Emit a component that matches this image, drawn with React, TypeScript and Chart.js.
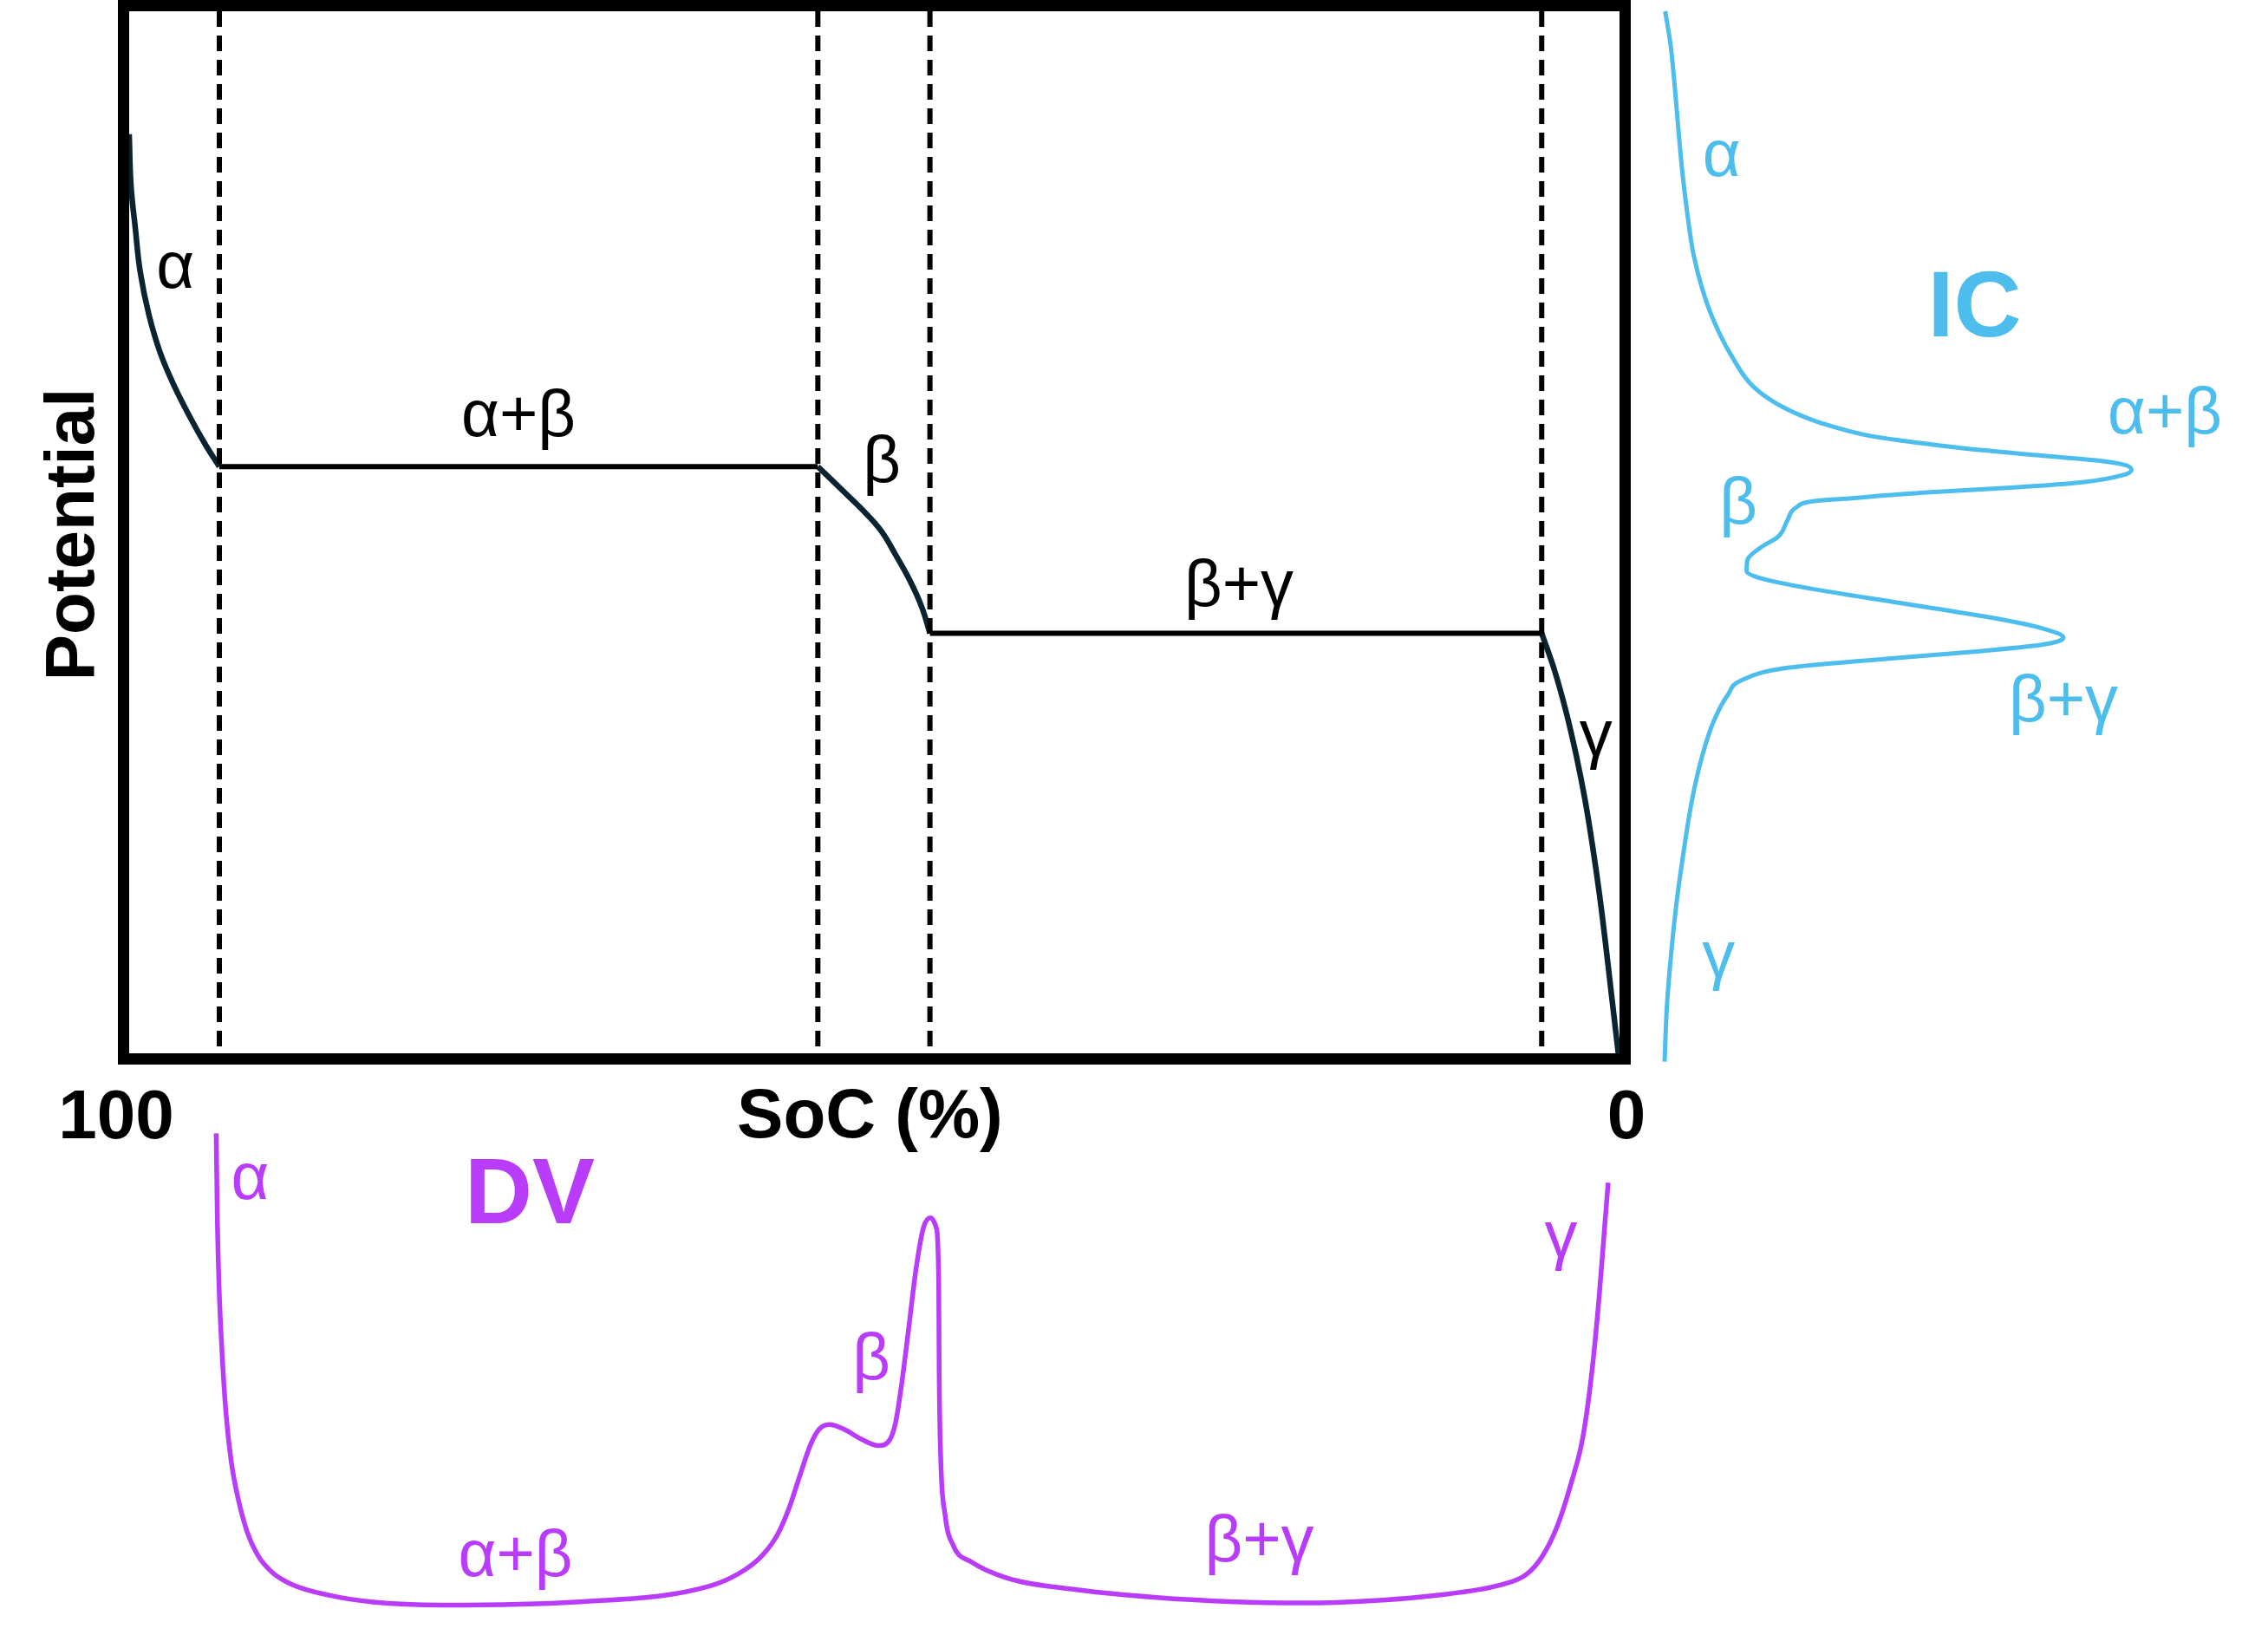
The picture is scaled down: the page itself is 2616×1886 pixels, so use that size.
import React, { useEffect, useRef } from 'react';
import { Chart, registerables } from 'chart.js';

Chart.register(...registerables);

const W = 2616;
const H = 1886;
const FONT = '"Liberation Sans", Arial, sans-serif';

const NAVY = '#0b2431';
const BLUE = '#4dbdee';
const PURPLE = '#b93cfb';

// potential vs SoC, one piece per phase region
const alphaSoc = [100, 99.88, 99.59, 99.26, 98.68, 97.91, 96.93, 95.86, 94.88, 93.95];
const alphaPot = [88.2, 83.3, 79.2, 75.0, 70.9, 67.2, 63.9, 60.9, 58.4, 56.3];
const betaSoc = [53.79, 52.05, 50.69, 49.52, 48.56, 47.59, 46.81, 46.27];
const betaPot = [56.3, 53.9, 52.0, 50.1, 47.8, 45.3, 42.8, 40.3];
const gammaSoc = [5.22, 4.35, 3.57, 2.89, 2.31, 1.82, 1.34, 0.95, 0.56, 0.08];
const gammaPot = [40.3, 36.7, 32.7, 28.5, 24.3, 20.0, 15.2, 10.7, 5.9, 0];

// two-phase plateaus: [soc start, soc end, potential]
const plateaus = [
  [93.95, 53.79, 56.3],
  [46.27, 5.22, 40.3],
];

// phase boundaries (dashed)
const boundarySoc = [93.95, 53.79, 46.27, 5.22];

const socTicks = [100, 0];

// incremental capacity (dQ/dV) vs potential
const icPot = [100.0, 96.9, 92.8, 88.6, 84.4, 80.3, 76.7, 73.4, 70.3, 67.0, 63.9, 62.0, 60.5, 59.2, 58.8, 58.0, 57.4, 56.9, 56.5, 56.0, 55.5, 54.8, 54.3, 53.8, 53.2, 53.0, 52.4, 51.2, 49.6, 48.5, 47.4, 46.3, 45.6, 44.6, 43.2, 41.8, 40.8, 39.9, 39.2, 38.5, 37.8, 37.0, 35.8, 34.4, 31.9, 28.5, 24.3, 19.2, 14.1, 8.75, 4.5, -0.8];
const icDqdv = [0.95, 1.95, 2.78, 3.5, 4.28, 5.28, 6.38, 8.05, 10.28, 13.62, 18.05, 23.62, 30.83, 40.83, 46.3, 59.3, 72.5, 83.8, 89.0, 90.6, 89.0, 81.2, 68.1, 50.6, 34.9, 29.7, 26.2, 24.5, 22.7, 19.2, 16.8, 16.6, 19.2, 28.8, 46.3, 63.7, 73.3, 77.5, 73.3, 59.3, 41.9, 24.5, 15.6, 13.0, 10.3, 8.05, 6.1, 4.45, 3.05, 1.95, 1.28, 0.83];

// differential voltage (dV/dQ) vs SoC
const dvSoc = [94.16, 94.08, 93.97, 93.78, 93.5, 93.15, 92.67, 92.09, 91.41, 90.44, 89.08, 86.53, 83.65, 79.0, 70.08, 60.91, 58.64, 57.48, 56.5, 55.73, 54.96, 54.28, 53.69, 53.01, 52.05, 50.88, 49.72, 48.94, 48.56, 48.17, 47.68, 47.2, 46.71, 46.23, 45.84, 45.68, 45.65, 45.55, 45.26, 44.68, 43.51, 41.13, 36.31, 31.06, 26.18, 21.29, 16.4, 11.52, 7.85, 6.25, 5.18, 4.19, 3.2, 2.47, 1.86, 1.37, 0.99, 0.76];
const dvDvdq = [97.0, 79.3, 66.6, 54.0, 41.2, 31.7, 24.1, 17.8, 13.3, 9.8, 7.3, 5.1, 3.8, 3.2, 3.8, 7.1, 10.3, 13.2, 17.2, 22.4, 29.3, 35.1, 38.2, 39.1, 38.2, 36.2, 34.9, 36.2, 39.7, 47.1, 58.6, 70.1, 78.2, 80.2, 78.2, 67.2, 50.0, 32.8, 21.3, 14.9, 11.8, 8.6, 6.2, 4.7, 3.9, 3.6, 4.1, 5.4, 7.3, 9.3, 12.9, 18.8, 27.9, 36.4, 49.4, 64.4, 78.7, 87.2];

type Label = { text: string; x: number; y: number; size: number; color: string; bold?: boolean; rotate?: boolean };

const mainLabels: Label[] = [
  { text: 'α', x: 96.9, y: 73.5, size: 76, color: '#000' },
  { text: 'α+β', x: 73.88, y: 59.2, size: 76, color: '#000' },
  { text: 'β', x: 49.5, y: 54.8, size: 76, color: '#000' },
  { text: 'β+γ', x: 25.54, y: 42.9, size: 76, color: '#000' },
  { text: 'γ', x: 1.59, y: 28.5, size: 76, color: '#000' },
  { text: 'SoC (%)', x: 50.3, y: -8.1, size: 80, color: '#000', bold: true },
  { text: 'Potential', x: 102.4, y: 49.8, size: 80, color: '#000', bold: true, rotate: true },
];

const icLabels: Label[] = [
  { text: 'α', x: 11.8, y: 84.2, size: 76, color: BLUE },
  { text: 'IC', x: 60.4, y: 68.8, size: 108, color: BLUE, bold: true },
  { text: 'α+β', x: 97.0, y: 59.5, size: 76, color: BLUE },
  { text: 'β', x: 15.0, y: 50.8, size: 76, color: BLUE },
  { text: 'β+γ', x: 77.5, y: 31.9, size: 76, color: BLUE },
  { text: 'γ', x: 11.2, y: 7.3, size: 76, color: BLUE },
];

const dvLabels: Label[] = [
  { text: 'α', x: 91.88, y: 83.9, size: 76, color: PURPLE },
  { text: 'DV', x: 73.12, y: 79.1, size: 108, color: PURPLE, bold: true },
  { text: 'α+β', x: 74.08, y: 9.0, size: 76, color: PURPLE },
  { text: 'β', x: 50.2, y: 48.1, size: 76, color: PURPLE },
  { text: 'β+γ', x: 24.17, y: 11.9, size: 76, color: PURPLE },
  { text: 'γ', x: 3.93, y: 72.4, size: 76, color: PURPLE },
];

const pts = (xs: number[], ys: number[]) => xs.map((x, i) => ({ x, y: ys[i] }));

const labelPlugin = (id: string, labels: Label[]) => ({
  id,
  afterDatasetsDraw(chart: Chart) {
    const { ctx, scales } = chart;
    ctx.save();
    ctx.textAlign = 'center';
    ctx.textBaseline = 'alphabetic';
    labels.forEach(l => {
      const px = scales.x.getPixelForValue(l.x);
      const py = scales.y.getPixelForValue(l.y);
      ctx.font = `${l.bold ? 'bold ' : ''}${l.size}px ${FONT}`;
      ctx.fillStyle = l.color;
      if (l.rotate) {
        ctx.save();
        ctx.translate(px, py);
        ctx.rotate(-Math.PI / 2);
        ctx.fillText(l.text, 0, 0);
        ctx.restore();
      } else {
        ctx.fillText(l.text, px, py);
      }
    });
    ctx.restore();
  },
});

// thick frame round the plot and the two SoC end labels
const framePlugin = {
  id: 'frame',
  afterDatasetsDraw(chart: Chart) {
    const { ctx, chartArea: a, scales } = chart;
    const lw = 13;
    ctx.save();
    ctx.strokeStyle = '#000';
    ctx.lineWidth = lw;
    ctx.strokeRect(a.left - lw / 2, a.top - lw / 2, a.right - a.left + lw, a.bottom - a.top + lw);
    ctx.fillStyle = '#000';
    ctx.font = `bold 80px ${FONT}`;
    ctx.textAlign = 'center';
    ctx.textBaseline = 'alphabetic';
    socTicks.forEach(v => {
      const px = scales.x.getPixelForValue(v) + (v > 50 ? -15 : 8);
      ctx.fillText(String(v), px, a.bottom + 98);
    });
    ctx.restore();
  },
};

const baseOptions = (pad: { left: number; right: number; top: number; bottom: number }, reverseX: boolean) => ({
  responsive: false,
  maintainAspectRatio: false,
  animation: false as const,
  devicePixelRatio: 1,
  layout: { padding: pad },
  plugins: { legend: { display: false }, tooltip: { enabled: false } },
  elements: { point: { radius: 0 } },
  scales: {
    x: { type: 'linear' as const, min: 0, max: 100, reverse: reverseX, display: false },
    y: { type: 'linear' as const, min: 0, max: 100, display: false },
  },
});

const App: React.FC = () => {
  const mainRef = useRef<HTMLCanvasElement | null>(null);
  const icRef = useRef<HTMLCanvasElement | null>(null);
  const dvRef = useRef<HTMLCanvasElement | null>(null);

  useEffect(() => {
    if (!mainRef.current || !icRef.current || !dvRef.current) return;

    const curve = (data: { x: number; y: number }[]) => ({
      data,
      borderColor: NAVY,
      borderWidth: 6.5,
      tension: 0.4,
      pointRadius: 0,
    });

    const mainChart = new Chart(mainRef.current, {
      type: 'line',
      data: {
        datasets: [
          ...boundarySoc.map(s => ({
            data: [{ x: s, y: 100 }, { x: s, y: 0 }],
            borderColor: '#000',
            borderWidth: 6,
            borderDash: [18, 10],
            pointRadius: 0,
          })),
          ...plateaus.map(p => ({
            data: [{ x: p[0], y: p[2] }, { x: p[1], y: p[2] }],
            borderColor: '#000',
            borderWidth: 6,
            pointRadius: 0,
          })),
          curve(pts(alphaSoc, alphaPot)),
          curve(pts(betaSoc, betaPot)),
          curve(pts(gammaSoc, gammaPot)),
        ],
      },
      options: baseOptions({ left: 149, right: W - 1868, top: 13, bottom: H - 1215 }, true) as any,
      plugins: [framePlugin, labelPlugin('mainLabels', mainLabels)],
    });

    const icChart = new Chart(icRef.current, {
      type: 'line',
      data: {
        datasets: [{
          data: pts(icDqdv, icPot),
          borderColor: BLUE,
          borderWidth: 5,
          cubicInterpolationMode: 'monotone',
          pointRadius: 0,
          clip: false,
        } as any],
      },
      options: { ...baseOptions({ left: 1915, right: W - 2515, top: 13, bottom: H - 1215 }, false), indexAxis: 'y' } as any,
      plugins: [labelPlugin('icLabels', icLabels)],
    });

    const dvChart = new Chart(dvRef.current, {
      type: 'line',
      data: {
        datasets: [{
          data: pts(dvSoc, dvDvdq),
          borderColor: PURPLE,
          borderWidth: 5.5,
          cubicInterpolationMode: 'monotone',
          pointRadius: 0,
          clip: false,
        } as any],
      },
      options: baseOptions({ left: 149, right: W - 1868, top: 1290, bottom: H - 1870 }, true) as any,
      plugins: [labelPlugin('dvLabels', dvLabels)],
    });

    return () => {
      mainChart.destroy();
      icChart.destroy();
      dvChart.destroy();
    };
  }, []);

  const canvasStyle: React.CSSProperties = { position: 'absolute', left: 0, top: 0, width: W, height: H };

  return (
    <div style={{ position: 'fixed', left: 0, top: 0, width: W, height: H, background: '#fff', overflow: 'hidden' }}>
      <canvas ref={mainRef} width={W} height={H} style={canvasStyle} />
      <canvas ref={icRef} width={W} height={H} style={canvasStyle} />
      <canvas ref={dvRef} width={W} height={H} style={canvasStyle} />
    </div>
  );
};

export default App;
